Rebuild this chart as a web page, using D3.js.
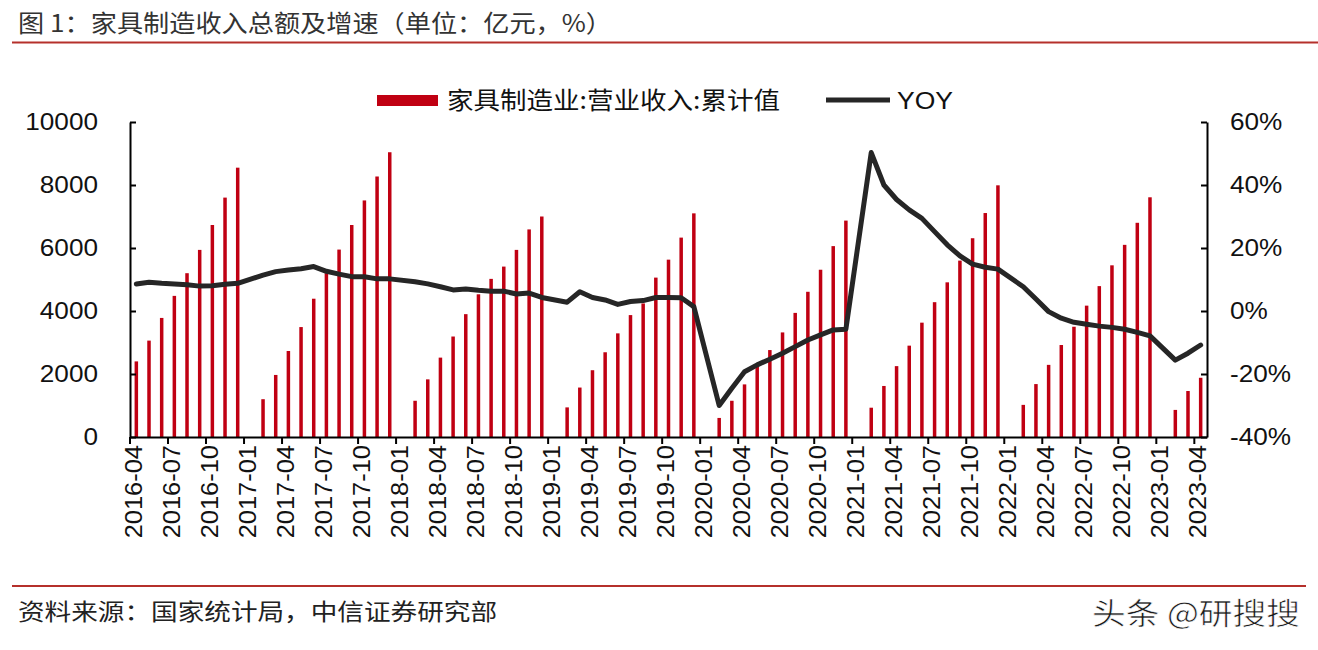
<!DOCTYPE html>
<html>
<head>
<meta charset="utf-8">
<script src="https://cdn.jsdelivr.net/npm/d3@7"></script>
<style>
  html, body { margin: 0; padding: 0; background: #ffffff; }
  svg { display: block; }
</style>
</head>
<body>
<svg id="chart" width="1318" height="650"></svg>
<script>
// ---------- DATA ----------
const months = [
  "2016-04","2016-05","2016-06","2016-07","2016-08","2016-09","2016-10","2016-11","2016-12",
  "2017-01","2017-02","2017-03","2017-04","2017-05","2017-06","2017-07","2017-08","2017-09","2017-10","2017-11","2017-12",
  "2018-01","2018-02","2018-03","2018-04","2018-05","2018-06","2018-07","2018-08","2018-09","2018-10","2018-11","2018-12",
  "2019-01","2019-02","2019-03","2019-04","2019-05","2019-06","2019-07","2019-08","2019-09","2019-10","2019-11","2019-12",
  "2020-01","2020-02","2020-03","2020-04","2020-05","2020-06","2020-07","2020-08","2020-09","2020-10","2020-11","2020-12",
  "2021-01","2021-02","2021-03","2021-04","2021-05","2021-06","2021-07","2021-08","2021-09","2021-10","2021-11","2021-12",
  "2022-01","2022-02","2022-03","2022-04","2022-05","2022-06","2022-07","2022-08","2022-09","2022-10","2022-11","2022-12",
  "2023-01","2023-02","2023-03","2023-04"
];

// 家具制造业:营业收入:累计值 (亿元)
const revenue = [
  2400, 3060, 3780, 4480, 5200, 5940, 6730, 7600, 8550,
  null, 1200, 1970, 2730, 3490, 4390, 5200, 5950, 6730, 7510, 8270, 9040,
  null, 1150, 1830, 2520, 3190, 3900, 4530, 5020, 5410, 5940, 6590, 7000,
  null, 940, 1570, 2120, 2690, 3290, 3870, 4240, 5060, 5630, 6330, 7100,
  null, 605, 1150, 1670, 2230, 2760, 3320, 3940, 4610, 5310, 6060, 6870,
  null, 930, 1620, 2250, 2900, 3630, 4280, 4910, 5600, 6310, 7110, 7990,
  null, 1020, 1680, 2290, 2920, 3500, 4170, 4790, 5450, 6100, 6800, 7610,
  null, 860, 1460, 1880
];

// YOY (%)
const yoy = [
  8.6, 9.1, 8.8, 8.6, 8.3, 7.9, 8.0, 8.5, 8.8,
  null, 11.4, 12.5, 13.0, 13.4, 14.1, 12.6, 11.7, 10.9, 10.9, 10.2, 10.2,
  null, 9.3, 8.6, 7.7, 6.7, 7.0, 6.6, 6.3, 6.3, 5.4, 5.7, 4.3,
  null, 2.8, 6.1, 4.3, 3.5, 2.1, 3.0, 3.3, 4.3, 4.3, 4.2, 1.4,
  null, -30.0, -24.5, -19.3, -17.1, -15.3, -13.4, -11.3, -9.2, -7.6, -6.0, -5.8,
  null, 50.3, 40.0, 35.4, 32.1, 29.4, 25.2, 21.0, 17.5, 14.9, 13.9, 13.3,
  null, 7.7, 3.8, -0.2, -2.3, -3.6, -4.2, -4.8, -5.2, -5.8, -6.8, -7.9,
  null, -15.6, -13.4, -10.8
];

const leftTicks = [0, 2000, 4000, 6000, 8000, 10000];
const rightTicks = [-40, -20, 0, 20, 40, 60];
const xTickLabels = months.filter((d, i) => i % 3 === 0);

const titleText = "图 1：家具制造收入总额及增速（单位：亿元，%）";
const barSeriesName = "家具制造业:营业收入:累计值";
const lineSeriesName = "YOY";
const sourceText = "资料来源：国家统计局，中信证券研究部";
const watermarkText = "头条 @研搜搜";

// ---------- STYLE ----------
const BAR_COLOR = "#c00012";
const LINE_COLOR = "#262626";
const RULE_COLOR = "#b5302b";
const CJK = "'Noto Sans CJK SC', 'Noto Sans', sans-serif";
const LATIN = "'Liberation Sans', Arial, sans-serif";
const WIDEN = 1.09; // reference glyphs are slightly wider than native

const svg = d3.select("#chart");
const plot = { left: 130, right: 1207, top: 122, bottom: 437 };

// ---------- SCALES ----------
const x = d3.scaleBand().domain(months).range([plot.left, plot.right]).padding(0);
const step = x.step();
const yL = d3.scaleLinear().domain([0, 10000]).range([plot.bottom, plot.top]);
const yR = d3.scaleLinear().domain([-40, 60]).range([plot.bottom, plot.top]);

function widen(sel, factor) {
  sel.each(function () {
    const len = this.getComputedTextLength();
    d3.select(this).attr("textLength", len * factor).attr("lengthAdjust", "spacingAndGlyphs");
  });
}

// ---------- TITLE ----------
svg.append("text")
  .attr("x", 18).attr("y", 32)
  .attr("font-family", CJK).attr("font-size", 24)
  .attr("fill", "#333")
  .attr("textLength", 594).attr("lengthAdjust", "spacingAndGlyphs")
  .text(titleText);
svg.append("line")
  .attr("x1", 12).attr("x2", 1318).attr("y1", 42.5).attr("y2", 42.5)
  .attr("stroke", RULE_COLOR).attr("stroke-width", 2);

// ---------- LEGEND ----------
const lg = svg.append("g");
lg.append("rect").attr("x", 377).attr("y", 95).attr("width", 61).attr("height", 11).attr("fill", BAR_COLOR);
lg.append("text").attr("x", 447).attr("y", 100).attr("dy", "0.36em")
  .attr("font-family", CJK).attr("font-size", 24).attr("fill", "#111")
  .attr("textLength", 333).attr("lengthAdjust", "spacingAndGlyphs")
  .text(barSeriesName);
lg.append("line").attr("x1", 826).attr("x2", 890).attr("y1", 100).attr("y2", 100)
  .attr("stroke", LINE_COLOR).attr("stroke-width", 5);
lg.append("text").attr("x", 897).attr("y", 100).attr("dy", "0.36em")
  .attr("font-family", LATIN).attr("font-size", 24).attr("fill", "#111")
  .attr("textLength", 56).attr("lengthAdjust", "spacingAndGlyphs")
  .text(lineSeriesName);

// ---------- BARS ----------
const barData = months.map((m, i) => ({ m, v: revenue[i] })).filter(d => d.v != null);
const barW = 3.5;
svg.append("g").selectAll("rect").data(barData).enter().append("rect")
  .attr("x", d => x(d.m) + step / 2 - barW / 2)
  .attr("y", d => yL(d.v))
  .attr("width", barW)
  .attr("height", d => yL(0) - yL(d.v))
  .attr("fill", BAR_COLOR);

// ---------- AXES ----------
function styleAxis(g) {
  g.select(".domain").attr("stroke", "#000").attr("stroke-width", 2);
  g.selectAll(".tick line").attr("stroke", "#000").attr("stroke-width", 2);
  g.selectAll("text").attr("font-family", LATIN).attr("fill", "#111");
}

const axL = svg.append("g").attr("transform", `translate(${plot.left},0)`)
  .call(d3.axisLeft(yL).tickValues(leftTicks).tickFormat(d3.format("d")).tickSize(-6).tickSizeOuter(0).tickPadding(32));
styleAxis(axL);
axL.selectAll("text").attr("font-size", 24);
widen(axL.selectAll(".tick text"), WIDEN);

const axR = svg.append("g").attr("transform", `translate(${plot.right},0)`)
  .call(d3.axisRight(yR).tickValues(rightTicks).tickFormat(d => d + "%").tickSize(-6).tickSizeOuter(0).tickPadding(23));
styleAxis(axR);
axR.selectAll("text").attr("font-size", 24);
widen(axR.selectAll(".tick text"), WIDEN);

const axB = svg.append("g").attr("transform", `translate(0,${plot.bottom})`)
  .call(d3.axisBottom(x).tickValues(xTickLabels).tickSize(7).tickSizeOuter(0));
styleAxis(axB);
axB.selectAll(".tick line").attr("transform", `translate(${-step / 2},0)`);
axB.selectAll(".tick text")
  .attr("font-size", 24)
  .attr("transform", "rotate(-90)")
  .attr("x", -8).attr("y", -3).attr("dy", "0.36em")
  .style("text-anchor", "end");
widen(axB.selectAll(".tick text"), 1.06);

// ---------- LINE ----------
const lineData = months.map((m, i) => ({ m, v: yoy[i] })).filter(d => d.v != null);
const line = d3.line()
  .x(d => x(d.m) + step / 2)
  .y(d => yR(d.v));
svg.append("path").datum(lineData)
  .attr("d", line)
  .attr("fill", "none")
  .attr("stroke", LINE_COLOR)
  .attr("stroke-width", 5)
  .attr("stroke-linejoin", "round")
  .attr("stroke-linecap", "round");

// ---------- FOOTER ----------
svg.append("line")
  .attr("x1", 12).attr("x2", 1306).attr("y1", 586).attr("y2", 586)
  .attr("stroke", RULE_COLOR).attr("stroke-width", 2);
svg.append("text")
  .attr("x", 18).attr("y", 612).attr("dy", "0.36em")
  .attr("font-family", CJK).attr("font-size", 23).attr("fill", "#222")
  .attr("textLength", 479).attr("lengthAdjust", "spacingAndGlyphs")
  .text(sourceText);
svg.append("text")
  .attr("x", 1092).attr("y", 613).attr("dy", "0.36em")
  .attr("font-family", CJK).attr("font-size", 30).attr("fill", "#1a1a1a")
  .attr("stroke", "#fff").attr("stroke-width", 0.6)
  .attr("textLength", 208).attr("lengthAdjust", "spacingAndGlyphs")
  .text(watermarkText);
</script>
</body>
</html>
